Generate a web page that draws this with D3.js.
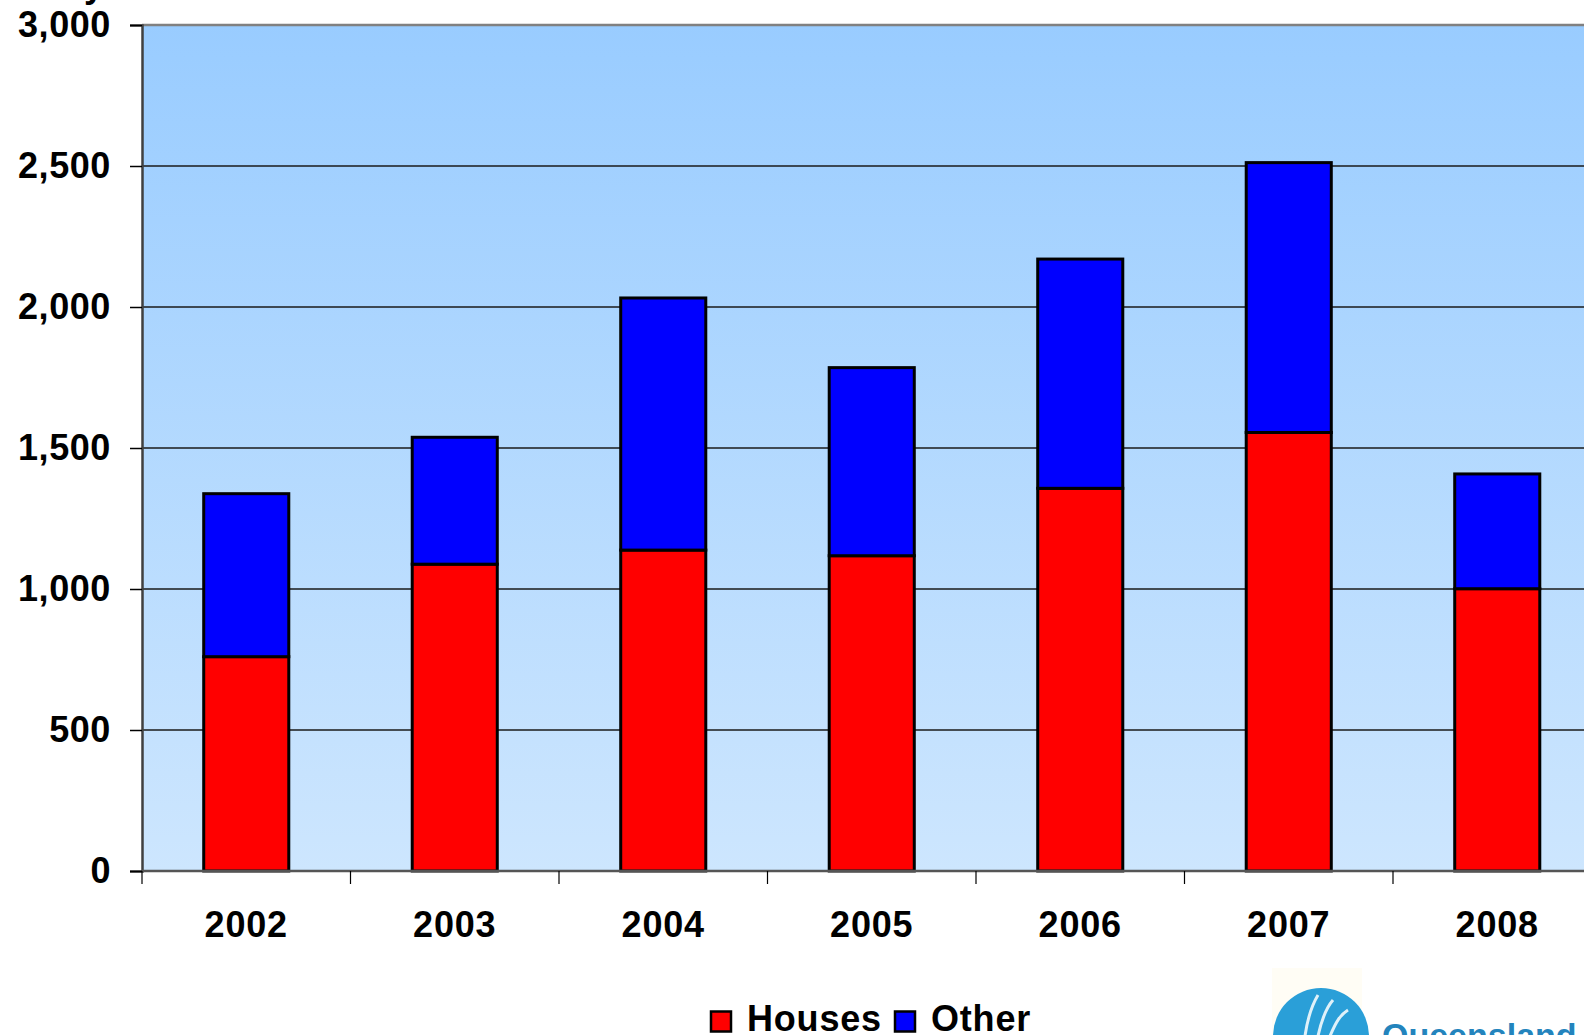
<!DOCTYPE html>
<html><head><meta charset="utf-8">
<script src="https://cdn.jsdelivr.net/npm/d3@7"></script>
<style>
html,body{margin:0;padding:0;background:#fff;overflow:hidden;}
svg{display:block;font-family:"Liberation Sans",Arial,sans-serif;font-weight:bold;}
</style></head>
<body>
<svg id="chart" width="1584" height="1035"></svg>
<script>
const years = ["2002","2003","2004","2005","2006","2007","2008"];
const houses = [760, 1088, 1138, 1118, 1357, 1555, 1001];
const other = [578, 450, 894, 667, 813, 957, 407];
const yTicks = [0, 500, 1000, 1500, 2000, 2500, 3000];
const seriesNames = ["Houses", "Other"];
const seriesColors = ["#FF0000", "#0000FF"];

const svg = d3.select("#chart");
const plotLeft = 142, plotRight = 1601.5, plotTop = 25, plotBottom = 871;

const x = d3.scaleBand().domain(years).range([plotLeft, plotRight]).paddingInner(0.592).paddingOuter(0.296);
const y = d3.scaleLinear().domain([0, 3000]).range([plotBottom, plotTop]);

const defs = svg.append("defs");
const grad = defs.append("linearGradient").attr("id","bg").attr("x1",0).attr("y1",0).attr("x2",0).attr("y2",1);
grad.append("stop").attr("offset","0%").attr("stop-color","#99CCFF");
grad.append("stop").attr("offset","100%").attr("stop-color","#CDE6FE");

// plot background
svg.append("rect").attr("x", plotLeft).attr("y", y(3000)).attr("width", plotRight-plotLeft).attr("height", y(0)-y(3000)).attr("fill","url(#bg)");

// gridlines
svg.append("g").selectAll("line").data(yTicks.filter(d=>d>0 && d<3000)).join("line")
  .attr("x1", plotLeft).attr("x2", plotRight).attr("y1", d=>y(d)).attr("y2", d=>y(d))
  .attr("stroke","#1a1a1a").attr("stroke-width",1.3);
// top border
svg.append("line").attr("x1", plotLeft).attr("x2", plotRight).attr("y1", y(3000)).attr("y2", y(3000)).attr("stroke","#808080").attr("stroke-width",2.5);

// stacked data
const stackData = years.map((yr,i)=>({year:yr, Houses:houses[i], Other:other[i]}));
const stack = d3.stack().keys(seriesNames)(stackData);

svg.append("g").selectAll("g").data(stack).join("g")
  .attr("fill", (d,i)=>seriesColors[i])
  .selectAll("rect").data(d=>d).join("rect")
  .attr("x", d=>x(d.data.year)).attr("width", x.bandwidth())
  .attr("y", d=>y(d[1])).attr("height", d=>y(d[0])-y(d[1]))
  .attr("stroke","#000").attr("stroke-width",3);

// y axis
const yAxis = d3.axisLeft(y).tickValues(yTicks).tickSize(12).tickPadding(19).tickFormat(d3.format(","));
const gy = svg.append("g").attr("transform", `translate(${plotLeft},0)`).call(yAxis);
gy.select(".domain").attr("stroke","#404040").attr("stroke-width",2.5);
gy.selectAll(".tick line").attr("stroke","#000").attr("stroke-width",1.5);
gy.selectAll("text").attr("font-size",36).attr("font-weight","bold").attr("fill","#000").attr("font-family",'"Liberation Sans",Arial,sans-serif').attr("letter-spacing",0.6);

// x axis line
svg.append("line").attr("x1", plotLeft).attr("x2", plotRight).attr("y1", plotBottom).attr("y2", plotBottom).attr("stroke","#555").attr("stroke-width",2.5);
// x ticks at category boundaries
const step = x.step();
const bounds = years.map(d=>x(d) + x.bandwidth()/2 - step/2);
svg.append("g").selectAll("line").data(bounds).join("line")
  .attr("x1", d=>d).attr("x2", d=>d).attr("y1", plotBottom).attr("y2", plotBottom+13)
  .attr("stroke","#000").attr("stroke-width",1.2);
svg.append("g").selectAll("text").data(years).join("text")
  .attr("x", d=>x(d)+x.bandwidth()/2).attr("y", 937)
  .attr("text-anchor","middle").attr("font-size",36).attr("letter-spacing",0.8).attr("fill","#000").text(d=>d);

// title fragment (cut off above)
svg.append("text").attr("x", 84).attr("y", -3.5).attr("font-size",36).attr("fill","#000").text("y");

// legend
const legend = svg.append("g");
const legendItems = [{name:"Houses", color:seriesColors[0], sx:711, tx:747}, {name:"Other", color:seriesColors[1], sx:895, tx:931}];
legendItems.forEach(it=>{
  legend.append("rect").attr("x", it.sx).attr("y", 1011.5).attr("width",20).attr("height",20).attr("fill",it.color).attr("stroke","#000").attr("stroke-width",2.5);
  legend.append("text").attr("x", it.tx).attr("y", 1031).attr("font-size",36).attr("letter-spacing",0.8).attr("fill","#000").text(it.name);
});

// logo fragment
const logo = svg.append("g");
logo.append("rect").attr("x",1272).attr("y",968).attr("width",90).attr("height",70).attr("fill","#fffdf5");
logo.append("circle").attr("cx",1321).attr("cy",1036).attr("r",48).attr("fill","#2a9fd8");
logo.append("path").attr("d","M1305,1036 C1308,1015 1312,1005 1318,995 M1318,1036 C1322,1018 1326,1008 1333,1000 M1330,1036 C1336,1022 1340,1015 1348,1010")
  .attr("stroke","#ffffff").attr("stroke-width",3).attr("fill","none").attr("opacity",0.85);
logo.append("text").attr("x",1382).attr("y",1047).attr("font-size",34).attr("fill","#2384bd").attr("font-family",'"Liberation Sans",Arial,sans-serif').text("Queensland Government");
</script>
</body></html>
